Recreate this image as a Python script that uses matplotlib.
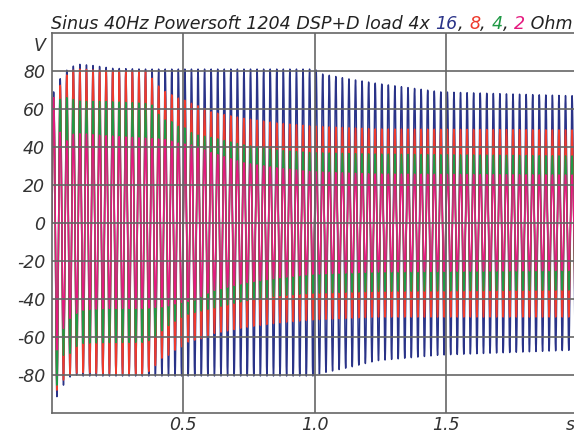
import numpy as np
import matplotlib
matplotlib.use("Agg")
import matplotlib.pyplot as plt

# 40 Hz burst into four loads; peak envelopes (V) read per trace, positive and negative half-waves
FREQ = 40.0
T_END = 2.0

t_16 = [0.0, 0.0065, 0.019, 0.032, 0.044, 0.057, 0.069, 0.082, 0.094, 0.106, 0.15, 0.232, 0.35,
        1.0, 1.03, 1.133, 1.236, 1.48, 1.97, 2.0]
pos_16 = [69, 69, 75, 76, 79, 80.5, 82, 82.6, 83, 83.5, 83, 81.4, 81,
          81, 78.4, 75.8, 73.5, 69, 67, 67]
neg_16 = [91.4, 91.4, 91.4, 87, 85.3, 82, 81, 80.5, 80, 80.5, 80.5, 80.5, 80.5,
          80.5, 79, 76, 72.5, 69.5, 67, 67]

t_8 = [0.0, 0.0065, 0.019, 0.032, 0.044, 0.057, 0.069, 0.082, 0.094, 0.106, 0.23, 0.354, 0.37,
       0.383, 0.396, 0.408, 0.42, 0.433, 0.445, 0.458, 0.47, 0.483, 0.496, 0.508, 0.52, 0.545,
       0.57, 0.608, 0.734, 0.859, 0.992, 1.236, 1.97, 2.0]
pos_8 = [66, 66, 70, 72.6, 76, 78, 79.5, 80.5, 80.8, 81, 80, 80, 78.5,
         75.8, 73.5, 71.8, 70.5, 69, 68, 67.4, 66.5, 65.6, 65, 64.5, 63.5, 62.3,
         61, 58.4, 55, 52.6, 51, 49.5, 49, 49]
neg_8 = [88, 88, 88, 85, 82.6, 81, 80, 79.5, 79, 78.8, 79.3, 79.5, 78,
         76.5, 74.7, 72.5, 71, 70.2, 69.5, 68, 66.8, 65.8, 65, 63.5, 62.5, 61.6,
         60.8, 58.4, 55, 52.6, 51, 49.5, 49.5, 49.5]

t_4 = [0.0, 0.0065, 0.019, 0.032, 0.044, 0.057, 0.069, 0.082, 0.094, 0.12, 0.2, 0.354, 0.383,
       0.408, 0.433, 0.458, 0.483, 0.508, 0.533, 0.555, 0.608, 0.734, 0.859, 0.992, 1.236,
       1.97, 2.0]
pos_4 = [66, 66, 66, 65, 65.5, 66, 65.5, 65, 64.5, 64, 64, 63, 62,
         56.8, 54, 53.3, 50.7, 50, 47.4, 46.3, 45, 41, 38.4, 37, 36.3,
         35.3, 35.3]
neg_4 = [85.3, 85.3, 85.3, 75, 69.5, 69, 68.6, 66, 65, 63.3, 63, 62.8, 61,
         58, 55, 52.6, 50.5, 48.4, 47.5, 46.7, 45, 41, 38.4, 37, 36,
         35.3, 35.3]

t_2 = [0.0, 0.0065, 0.019, 0.032, 0.044, 0.057, 0.069, 0.082, 0.094, 0.12, 0.2, 0.35, 0.433,
       0.483, 0.533, 0.555, 0.608, 0.734, 0.859, 0.992, 1.236, 1.97, 2.0]
pos_2 = [66, 66, 60, 46.8, 45, 43.2, 45, 46.8, 47, 47, 46, 44.7, 44,
         42, 41, 40, 37, 31.6, 29, 27, 25.8, 25.3, 25.3]
neg_2 = [66.8, 66.8, 66.8, 60, 55.4, 52, 50.2, 48.5, 47.5, 45.8, 45, 45, 44,
         42, 41, 40, 35.8, 31.6, 29, 27, 25.8, 25, 25]

traces = [
    ("16", t_16, pos_16, neg_16, "#2a3388"),
    ("8", t_8, pos_8, neg_8, "#ee3a2c"),
    ("4", t_4, pos_4, neg_4, "#1f9945"),
    ("2", t_2, pos_2, neg_2, "#e5197f"),
]

y_ticks = [-80, -60, -40, -20, 0, 20, 40, 60, 80]
x_ticks = [0.5, 1.0, 1.5]
x_tick_labels = ["0.5", "1.0", "1.5"]

plt.rcParams["axes.unicode_minus"] = False

W, H = 574, 433
fig = plt.figure(figsize=(W / 100, H / 100), dpi=100)
ax = fig.add_axes([52 / W, 20 / H, 525 / W, 380 / H])

t = np.linspace(0, T_END, 40001)
carrier = np.sin(2 * np.pi * FREQ * t)
for name, tk, pos, neg, color in traces:
    env = np.where(carrier >= 0, np.interp(t, tk, pos), np.interp(t, tk, neg))
    ax.plot(t, env * carrier, color=color, lw=1.05)

ax.set_xlim(0, T_END)
ax.set_ylim(-100, 100)

grid_c = "#666666"
for yv in y_ticks:
    ax.axhline(yv, color=grid_c, lw=1.2, zorder=5)
for xv in x_ticks:
    ax.axvline(xv, color=grid_c, lw=1.2, zorder=5)
for side in ["left", "bottom", "top"]:
    ax.spines[side].set_color(grid_c)
    ax.spines[side].set_linewidth(1.2)
    ax.spines[side].set_zorder(6)
ax.spines["right"].set_visible(False)

tick_font = dict(fontsize=12.5, style="oblique", color="#333333")
ax.set_yticks(y_ticks)
ax.set_yticklabels([str(v) for v in y_ticks], **tick_font)
# the unit "s" sits just inside the right edge of the time axis
ax.set_xticks(x_ticks + [1.975])
ax.set_xticklabels(x_tick_labels + ["s"], **tick_font)
ax.tick_params(length=0)
ax.tick_params(axis="y", pad=5)
ax.tick_params(axis="x", pad=2)
ax.text(-0.012, 98, "V", transform=ax.get_yaxis_transform(), ha="right", va="top", **tick_font)

# title with the load values coloured like their traces
pieces = [("Sinus 40Hz Powersoft 1204 DSP+D load 4x ", "#222222"),
          ("16", traces[0][4]), (", ", "#222222"),
          ("8", traces[1][4]), (", ", "#222222"),
          ("4", traces[2][4]), (", ", "#222222"),
          ("2", traces[3][4]), (" Ohm", "#222222")]
renderer = fig.canvas.get_renderer()
x = 51 / W
for s, c in pieces:
    txt = fig.text(x, (H - 29) / H, s, color=c, fontsize=12.6, style="oblique",
                   ha="left", va="baseline")
    bb = txt.get_window_extent(renderer)
    x += bb.width / W

fig.savefig("out.png", dpi=100)
